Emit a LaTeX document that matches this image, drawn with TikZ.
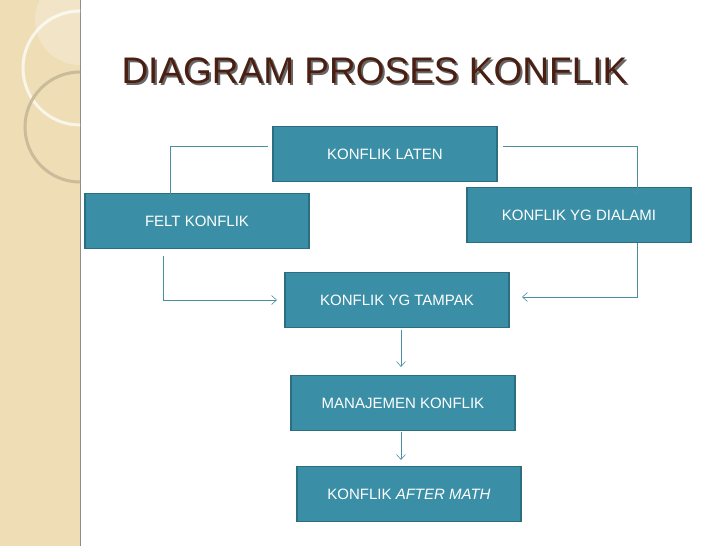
\documentclass[tikz,border=0pt]{standalone}
\usepackage{fontspec}
\setmainfont{Liberation Sans}
\usetikzlibrary{positioning,arrows.meta}
\definecolor{boxfill}{HTML}{3A8FA6}
\definecolor{boxline}{HTML}{2A6E80}
\definecolor{linecol}{HTML}{4A8EA4}
\definecolor{beige}{HTML}{EEDDB5}
\definecolor{titlecol}{HTML}{4A1E10}
\tikzstyle{block} = [rectangle, draw=boxline, line width=1.2pt, fill=boxfill, text=white, minimum width=224pt, minimum height=55pt, font=\fontsize{15}{18}\selectfont, inner sep=0pt]
\tikzstyle{line} = [draw=linecol, ->, >={Straight Barb[length=5pt,width=9pt]}, line width=.6pt]

\begin{document}
\begin{tikzpicture}[x=1pt, y=-1pt]

    % background and side band
    \useasboundingbox (0,0) rectangle (728,546);
    \fill[white] (0,0) rectangle (728,546);
    \fill[beige] (0,0) rectangle (80,546);
    \draw[black!45, line width=.8pt] (80,0) -- (80,546);
    \begin{scope}
        \clip (0,0) rectangle (80,546);
        \draw[white!70!beige, line width=3pt] (80,68) circle (57);
        \draw[black!15!beige, line width=3pt] (80,127) circle (55);
        \fill[white, opacity=.25] (80,20) circle (45);
    \end{scope}

    % title
    \node[font=\fontsize{37}{40}\selectfont, text=black!60, anchor=west] at (120,73) {DIAGRAM PROSES KONFLIK};
    \node[font=\fontsize{37}{40}\selectfont, text=titlecol, anchor=west] (title) at (118,71) {DIAGRAM PROSES KONFLIK};

    % boxes
    \node [block] (laten) at (385,154) {KONFLIK LATEN};
    \node [block] (felt) at (197,221) {FELT KONFLIK};
    \node [block] (dialami) at (579,215) {KONFLIK YG DIALAMI};
    \node [block] (tampak) at (397,300) {KONFLIK YG TAMPAK};
    \node [block] (manajemen) at (403,403) {MANAJEMEN KONFLIK};
    \node [block] (aftermath) at (409,494) {KONFLIK \textit{AFTER MATH}};

    % connectors
    \coordinate (p1) at (268,146);
    \coordinate (p2) at (503,146);
    \coordinate (p3) at (277,300);
    \coordinate (p4) at (522,297);
    \path[line] (p1) -| ([xshift=-27pt, yshift=-8pt]felt.north);
    \path[line] (p2) -| ([xshift=58pt, yshift=-8pt]dialami.north);
    \path[line] ([xshift=-34pt, yshift=-7pt]felt.south) |- (p3);
    \path[line] ([xshift=58pt]dialami.south) |- (p4);
    \path[line] ([xshift=4pt, yshift=-2pt]tampak.south) -- ([xshift=-2pt, yshift=8pt]manajemen.north);
    \path[line] ([xshift=-2pt, yshift=-1pt]manajemen.south) -- ([xshift=-8pt, yshift=6pt]aftermath.north);

\end{tikzpicture}
\end{document}
